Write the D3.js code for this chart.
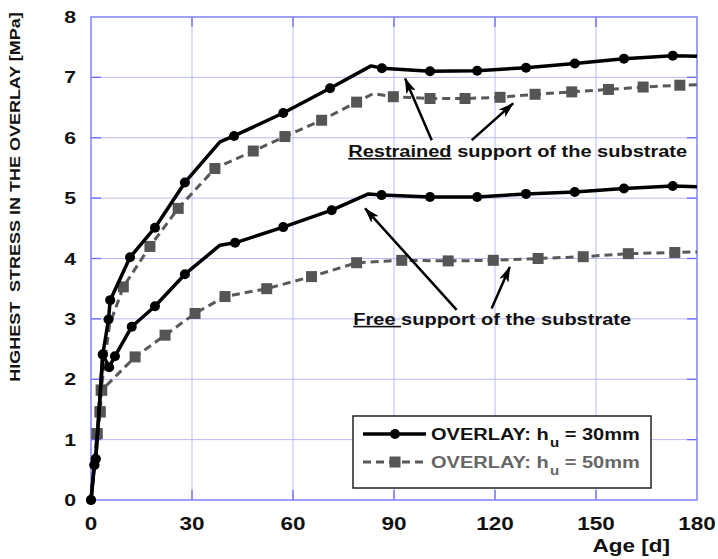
<!DOCTYPE html>
<html>
<head>
<meta charset="utf-8">
<script src="https://cdn.jsdelivr.net/npm/d3@7"></script>
<style>
  body { margin: 0; background: #fff; }
  text { font-family: Arial, "Liberation Sans", sans-serif; font-weight: bold; }
</style>
</head>
<body>
<div id="chart"></div>
<script>
// ages [d] and stresses [MPa]; mk = 1 where a marker is drawn
var r30Age = [0, 1.0, 1.4, 2.3, 3.5, 5.2, 5.7, 11.6, 19.0, 27.9, 38.3, 42.5, 57.1, 71.0, 83.2, 86.4, 100.7, 114.7, 129.2, 143.7, 158.3, 172.8, 180];
var r30Val = [0, 0.58, 0.68, 1.4, 2.41, 2.99, 3.31, 4.02, 4.51, 5.26, 5.93, 6.03, 6.41, 6.82, 7.19, 7.15, 7.10, 7.11, 7.16, 7.23, 7.31, 7.36, 7.35];
var r30Mk  = [1, 1, 1, 0, 1, 1, 1, 1, 1, 1, 0, 1, 1, 1, 0, 1, 1, 1, 1, 1, 1, 1, 0];

var f30Age = [0, 1.0, 1.4, 2.3, 3.5, 5.4, 7.1, 12.1, 19.0, 27.9, 38.3, 42.8, 57.1, 71.5, 82.4, 86.3, 100.7, 114.7, 129.2, 143.7, 158.3, 172.8, 180];
var f30Val = [0, 0.58, 0.68, 1.4, 2.41, 2.2, 2.38, 2.87, 3.21, 3.74, 4.22, 4.26, 4.52, 4.80, 5.07, 5.05, 5.02, 5.02, 5.07, 5.10, 5.16, 5.20, 5.19];
var f30Mk  = [1, 1, 1, 0, 1, 1, 1, 1, 1, 1, 0, 1, 1, 1, 0, 1, 1, 1, 1, 1, 1, 1, 0];

var r50Age = [0, 1.8, 2.7, 3.0, 5.5, 9.6, 17.5, 25.9, 36.8, 48.2, 57.6, 68.5, 78.9, 83.8, 89.8, 100.7, 111.1, 121.5, 131.9, 142.8, 153.7, 164.0, 174.9, 180];
var r50Val = [0, 1.1, 1.46, 1.82, 2.9, 3.53, 4.20, 4.83, 5.49, 5.78, 6.02, 6.29, 6.59, 6.73, 6.68, 6.65, 6.65, 6.67, 6.72, 6.76, 6.80, 6.84, 6.87, 6.88];
var r50Mk  = [0, 1, 1, 1, 0, 1, 1, 1, 1, 1, 1, 1, 1, 0, 1, 1, 1, 1, 1, 1, 1, 1, 1, 0];

var f50Age = [0, 1.8, 2.7, 3.2, 13.1, 22.0, 30.9, 39.8, 52.2, 65.5, 78.9, 92.3, 106.1, 119.5, 132.8, 146.2, 159.6, 173.4, 180];
var f50Val = [0, 1.1, 1.46, 1.82, 2.37, 2.73, 3.09, 3.37, 3.50, 3.70, 3.93, 3.97, 3.96, 3.97, 4.00, 4.03, 4.08, 4.10, 4.11];
var f50Mk  = [0, 1, 1, 1, 1, 1, 1, 1, 1, 1, 1, 1, 1, 1, 1, 1, 1, 1, 0];

var xTicks = [0, 30, 60, 90, 120, 150, 180];
var yTicks = [0, 1, 2, 3, 4, 5, 6, 7, 8];

// annotation arrows in data units: [x tail, y tail, x head, y head]
var restrainedArrows = [[101.2, 5.96, 93.3, 6.98], [113.1, 5.96, 125.4, 6.57]];
var freeArrows = [[108.6, 3.15, 81.4, 4.83], [119.0, 3.17, 124.4, 3.86]];

const W = 718, H = 559;
const margin = {top: 17, right: 21, bottom: 59, left: 91};
const SX = 1.25; // the original lettering is set wide

var svg = d3.select("#chart").append("svg")
	.attr("width", W)
	.attr("height", H);

var x = d3.scaleLinear().domain([0, 180]).range([margin.left, W - margin.right]);
var y = d3.scaleLinear().domain([0, 8]).range([H - margin.bottom, margin.top]);

// place a text at (px,py) stretched horizontally around its anchor
function wideText(g, px, py, size, extra) {
	return g.append("text")
		.attr("transform", "translate(" + px + "," + py + ") " + (extra || "") + " scale(" + SX + ",1)")
		.attr("font-size", size);
}

var defs = svg.append("defs");
defs.append("clipPath").attr("id", "clip")
	.append("rect")
	.attr("x", x(0) - 8).attr("y", y(8))
	.attr("width", x(180) - x(0) + 8).attr("height", y(0) - y(8) + 8);
defs.append("marker")
	.attr("id", "arrow")
	.attr("markerUnits", "userSpaceOnUse")
	.attr("viewBox", "0 0 16 10")
	.attr("refX", 15).attr("refY", 5)
	.attr("markerWidth", 16).attr("markerHeight", 10)
	.attr("orient", "auto")
	.append("path")
	.attr("d", "M0,0 L16,5 L0,10 L4,5 Z")
	.attr("fill", "#000");

// grid
var grid = svg.append("g");
grid.selectAll(".gx").data(xTicks.slice(1, -1)).enter().append("line")
	.attr("x1", d => x(d)).attr("x2", d => x(d))
	.attr("y1", y(0)).attr("y2", y(8))
	.attr("stroke", "#b9b9fb").attr("stroke-width", 1);
grid.selectAll(".gy").data(yTicks.slice(1, -1)).enter().append("line")
	.attr("y1", d => y(d)).attr("y2", d => y(d))
	.attr("x1", x(0)).attr("x2", x(180))
	.attr("stroke", "#b9b9fb").attr("stroke-width", 1);

// inner ticks on all four sides
var tk = svg.append("g").attr("stroke", "#6a6aff").attr("stroke-width", 1.3);
xTicks.slice(1, -1).forEach(function (d) {
	tk.append("line").attr("x1", x(d)).attr("x2", x(d)).attr("y1", y(0)).attr("y2", y(0) - 10);
	tk.append("line").attr("x1", x(d)).attr("x2", x(d)).attr("y1", y(8)).attr("y2", y(8) + 10);
});
yTicks.slice(1, -1).forEach(function (d) {
	tk.append("line").attr("y1", y(d)).attr("y2", y(d)).attr("x1", x(0)).attr("x2", x(0) + 10);
	tk.append("line").attr("y1", y(d)).attr("y2", y(d)).attr("x1", x(180)).attr("x2", x(180) - 10);
});

svg.append("rect")
	.attr("x", x(0)).attr("y", y(8))
	.attr("width", x(180) - x(0)).attr("height", y(0) - y(8))
	.attr("fill", "none").attr("stroke", "#8080ff").attr("stroke-width", 1.5);

// tick labels
xTicks.forEach(function (d) {
	wideText(svg, x(d), 530, 18).attr("text-anchor", "middle").attr("fill", "#111").text(d);
});
yTicks.forEach(function (d) {
	wideText(svg, 76, y(d) + 6, 17).attr("text-anchor", "end").attr("fill", "#111").text(d);
});

wideText(svg, 670, 552, 18).attr("text-anchor", "end").attr("fill", "#111").text("Age [d]");
svg.append("text")
	.attr("transform", "translate(20,197) rotate(-90) scale(1.2,1)")
	.attr("text-anchor", "middle")
	.attr("font-size", 15).attr("fill", "#111")
	.attr("xml:space", "preserve")
	.text("HIGHEST  STRESS IN THE OVERLAY [MPa]");

// series
var line = d3.line().x(d => x(d.a)).y(d => y(d.v));
function pts(ages, vals, mk) {
	return ages.map((a, i) => ({a: a, v: vals[i], m: mk[i]}));
}
var series = [
	{d: pts(r50Age, r50Val, r50Mk), dark: false},
	{d: pts(f50Age, f50Val, f50Mk), dark: false},
	{d: pts(r30Age, r30Val, r30Mk), dark: true},
	{d: pts(f30Age, f30Val, f30Mk), dark: true}
];
var plot = svg.append("g").attr("clip-path", "url(#clip)");
series.forEach(function (s) {
	plot.append("path")
		.attr("d", line(s.d))
		.attr("fill", "none")
		.attr("stroke", s.dark ? "#000" : "#595959")
		.attr("stroke-width", s.dark ? 3.5 : 3)
		.attr("stroke-dasharray", s.dark ? null : "8,5")
		.attr("stroke-linejoin", "round");
	var m = s.d.filter(p => p.m);
	if (s.dark) {
		plot.selectAll(null).data(m).enter().append("circle")
			.attr("cx", p => x(p.a)).attr("cy", p => y(p.v))
			.attr("r", 5).attr("fill", "#000");
	} else {
		plot.selectAll(null).data(m).enter().append("rect")
			.attr("x", p => x(p.a) - 5.5).attr("y", p => y(p.v) - 5.5)
			.attr("width", 11).attr("height", 11).attr("fill", "#555");
	}
});

// annotations
restrainedArrows.concat(freeArrows).forEach(function (a) {
	svg.append("line")
		.attr("x1", x(a[0])).attr("y1", y(a[1]))
		.attr("x2", x(a[2])).attr("y2", y(a[3]))
		.attr("stroke", "#000").attr("stroke-width", 2.5)
		.attr("marker-end", "url(#arrow)");
});
var t1 = wideText(svg, x(76.4), y(5.68), 16).attr("fill", "#111").attr("xml:space", "preserve");
t1.append("tspan").attr("text-decoration", "underline").text("Restrained");
t1.append("tspan").text(" support of the substrate");
var t2 = wideText(svg, x(77.9), y(2.90), 16).attr("fill", "#111").attr("xml:space", "preserve");
t2.append("tspan").attr("text-decoration", "underline").text("Free ");
t2.append("tspan").text("support of the substrate");

// legend
var lg = svg.append("g");
lg.append("rect")
	.attr("x", 353).attr("y", 416).attr("width", 298).attr("height", 72)
	.attr("fill", "#fff").attr("stroke", "#222").attr("stroke-width", 1.5);
var legendItems = [
	{label: "30mm", dark: true, yy: 434},
	{label: "50mm", dark: false, yy: 462}
];
legendItems.forEach(function (it) {
	lg.append("line")
		.attr("x1", 363).attr("x2", 426).attr("y1", it.yy).attr("y2", it.yy)
		.attr("stroke", it.dark ? "#000" : "#595959")
		.attr("stroke-width", it.dark ? 3.5 : 3)
		.attr("stroke-dasharray", it.dark ? null : "8,5");
	if (it.dark) {
		lg.append("circle").attr("cx", 395).attr("cy", it.yy).attr("r", 5).attr("fill", "#000");
	} else {
		lg.append("rect").attr("x", 389.5).attr("y", it.yy - 5.5).attr("width", 11).attr("height", 11).attr("fill", "#555");
	}
	var t = wideText(lg, 431, it.yy + 6, 16)
		.attr("fill", it.dark ? "#111" : "#666")
		.attr("xml:space", "preserve");
	t.append("tspan").text("OVERLAY: h");
	t.append("tspan").attr("dx", 1).attr("dy", 7).attr("font-size", 12).text("u");
	t.append("tspan").attr("dy", -7).text(" = " + it.label);
});
</script>
</body>
</html>
